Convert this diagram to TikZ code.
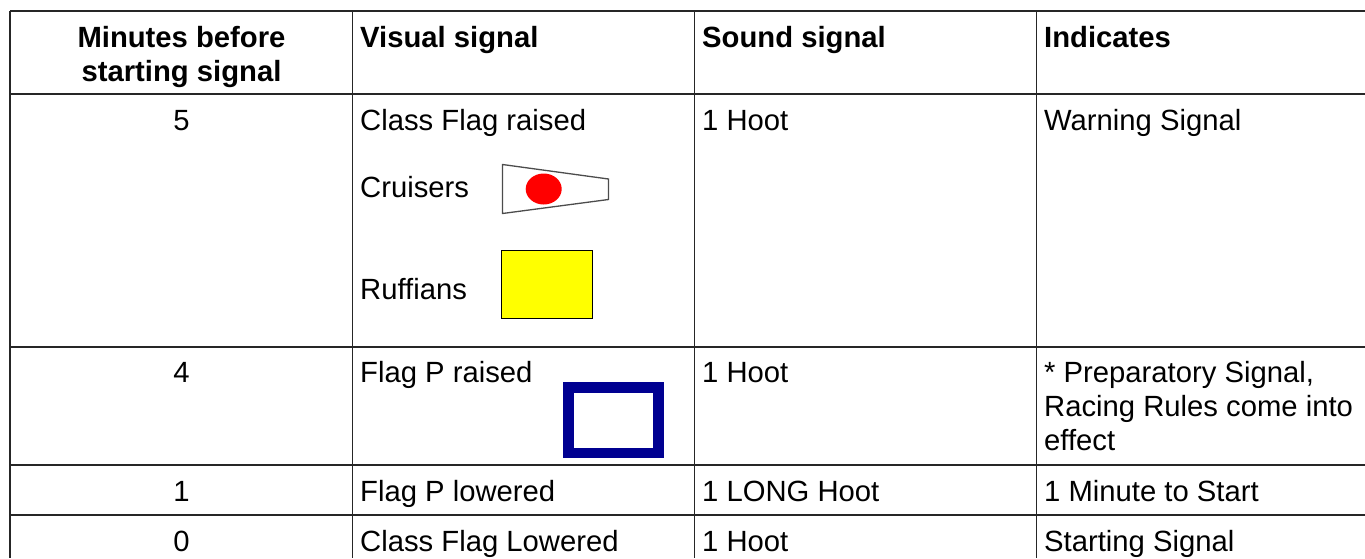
\documentclass[tikz,border=0pt]{standalone}
\usepackage{fontspec}
\setmainfont{Liberation Sans}
\definecolor{flagyellow}{RGB}{255,255,0}
\definecolor{flagred}{RGB}{255,0,0}
\definecolor{flagblue}{RGB}{0,0,145}
\tikzset{
  cell/.style={anchor=base west,inner sep=0pt,font=\fontsize{29.24}{33.6}\selectfont},
  cellc/.style={anchor=base,inner sep=0pt,font=\fontsize{29.24}{33.6}\selectfont},
  head/.style={cell,font=\fontsize{29.24}{33.6}\selectfont\bfseries},
  headc/.style={cellc,font=\fontsize{29.24}{33.6}\selectfont\bfseries},
  rule/.style={line width=1.5pt,draw=black!85}
}
\begin{document}
\begin{tikzpicture}[x=1pt,y=-1pt]
\useasboundingbox (0,0) rectangle (1365,558);
% table rules
\draw[rule] (10,11) -- (1365,11);
\draw[rule] (10,94) -- (1365,94);
\draw[rule] (10,347) -- (1365,347);
\draw[rule] (10,465) -- (1365,465);
\draw[rule] (10,515) -- (1365,515);
\draw[rule] (10,11) -- (10,558);
\draw[rule] (352.5,11) -- (352.5,558);
\draw[rule] (694.5,11) -- (694.5,558);
\draw[rule] (1036.5,11) -- (1036.5,558);
% header
\node[headc] (h1a) at (181.5,47) {Minutes before};
\node[headc] (h1b) at (181.5,81) {starting signal};
\node[head] (h2) at (360,47) {Visual signal};
\node[head] (h3) at (702,47) {Sound signal};
\node[head] (h4) at (1044,47) {Indicates};
% row 5
\node[cellc] (a1) at (181.5,130) {5};
\node[cell] (b1) at (360,130) {Class Flag raised};
\node[cell] (c1) at (702,130) {1 Hoot};
\node[cell] (d1) at (1044,130) {Warning Signal};
\node[cell] (cr) at (360,197) {Cruisers};
\node[cell] (ru) at (360,299) {Ruffians};
% flags
\draw[line width=1.3pt,draw=black!70,fill=white] (502.5,164.5) -- (608.5,179) -- (608.5,199.5) -- (502.5,213.5) -- cycle;
\fill[flagred] (543.7,189) ellipse (18 and 15.5);
\draw[line width=1pt,draw=black,fill=flagyellow] (501.5,250.5) rectangle (592.5,318.5);
% row 4
\node[cellc] (a2) at (181.5,382) {4};
\node[cell] (b2) at (360,382) {Flag P raised};
\node[cell] (c2) at (702,382) {1 Hoot};
\node[cell] (d2a) at (1044,382) {* Preparatory Signal,};
\node[cell] (d2b) at (1044,416) {Racing Rules come into};
\node[cell] (d2c) at (1044,450) {effect};
\draw[line width=10.2pt,draw=flagblue,fill=white] (568.4,387.4) rectangle (658.5,452.6);
% row 1
\node[cellc] (a3) at (181.5,501) {1};
\node[cell] (b3) at (360,501) {Flag P lowered};
\node[cell] (c3) at (702,501) {1 LONG Hoot};
\node[cell] (d3) at (1044,501) {1 Minute to Start};
% row 0
\node[cellc] (a4) at (181.5,551) {0};
\node[cell] (b4) at (360,551) {Class Flag Lowered};
\node[cell] (c4) at (702,551) {1 Hoot};
\node[cell] (d4) at (1044,551) {Starting Signal};
\end{tikzpicture}
\end{document}
